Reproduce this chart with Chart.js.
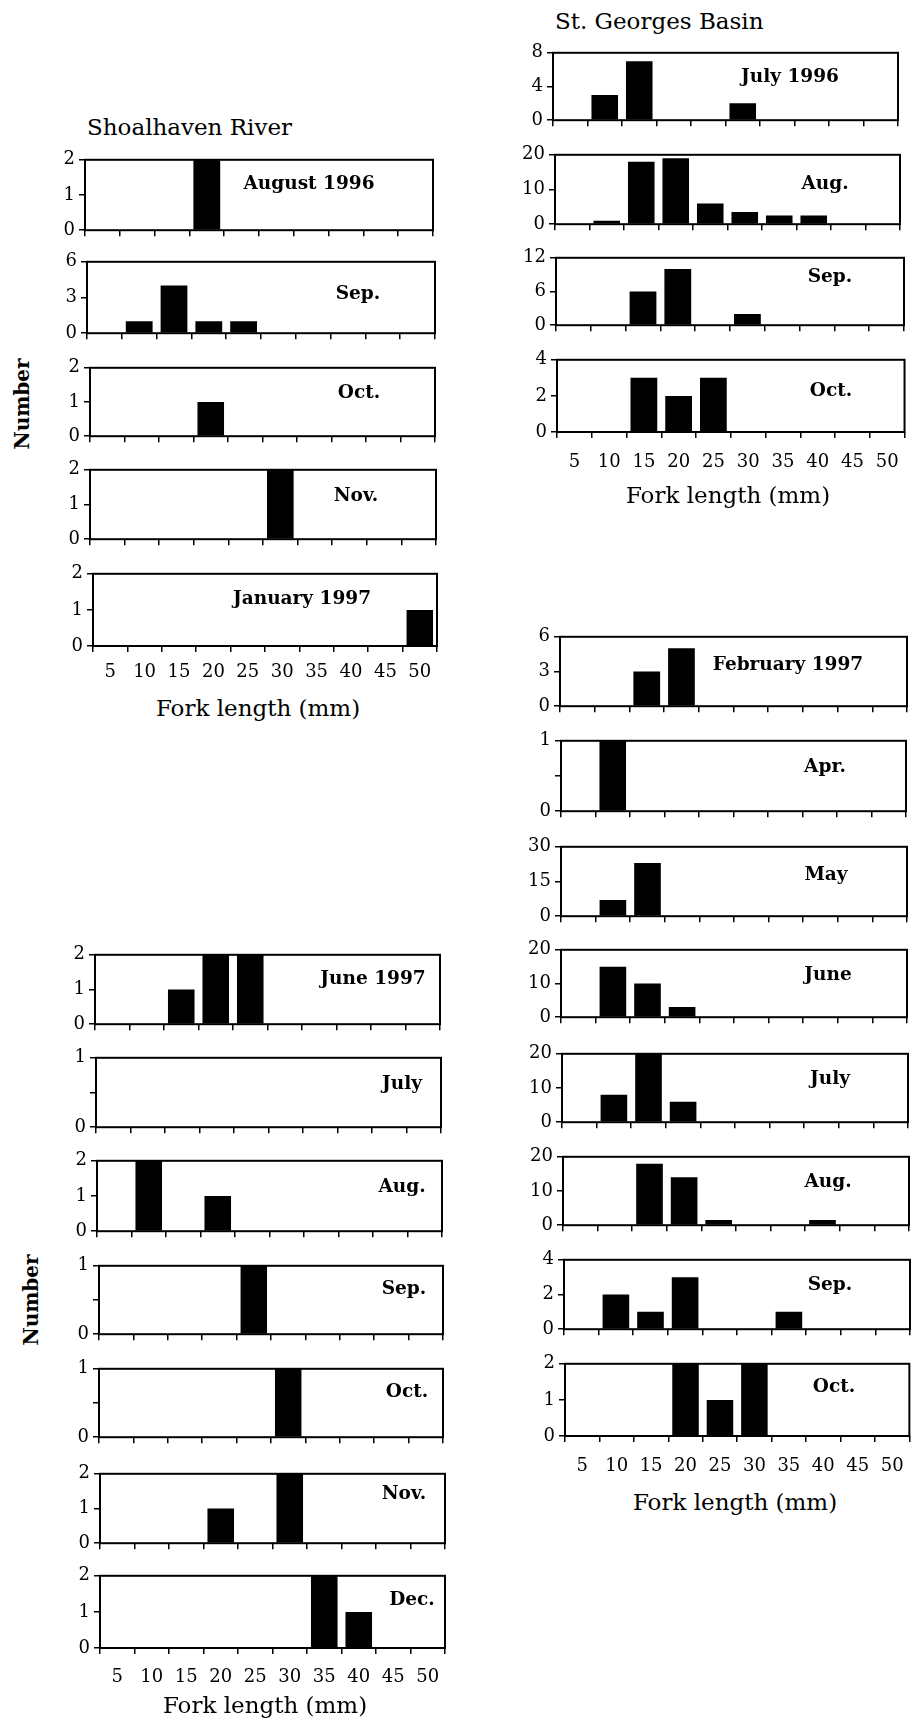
<!DOCTYPE html>
<html>
<head>
<meta charset="utf-8">
<script src="https://cdn.jsdelivr.net/npm/chart.js@4.4.1/dist/chart.umd.min.js"></script>
<style>
  body { margin: 0; background: #fff; }
  #fig { position: relative; width: 912px; height: 1726px; font-family: 'DejaVu Serif', serif; color: #000; overflow: hidden; }
  #fig canvas { position: absolute; }
  .txt { position: absolute; white-space: nowrap; transform: translate(-50%, -50%); }
  .month { font-weight: bold; font-size: 18.5px; }
  .axis-title { font-size: 23px; }
  .group-title { position: absolute; white-space: nowrap; font-size: 23px; transform: translateY(-50%); }
  .num { font-weight: bold; font-size: 20px; transform: translate(-50%, -50%) rotate(-90deg); }
</style>
</head>
<body>
<div id="fig"></div>
<script>
// fork length classes (mm)
const forkLengths = ['5', '10', '15', '20', '25', '30', '35', '40', '45', '50'];

// Shoalhaven River, Aug 1996 - Jan 1997
const shoalAug96 = [0, 0, 0, 2, 0, 0, 0, 0, 0, 0];
const shoalSep96 = [0, 1, 4, 1, 1, 0, 0, 0, 0, 0];
const shoalOct96 = [0, 0, 0, 1, 0, 0, 0, 0, 0, 0];
const shoalNov96 = [0, 0, 0, 0, 0, 2, 0, 0, 0, 0];
const shoalJan97 = [0, 0, 0, 0, 0, 0, 0, 0, 0, 1];

// St. Georges Basin, Jul - Oct 1996
const basinJul96 = [0, 3, 7, 0, 0, 2, 0, 0, 0, 0];
const basinAug96 = [0, 1, 18, 19, 6, 3.5, 2.5, 2.5, 0, 0];
const basinSep96 = [0, 0, 6, 10, 0, 2, 0, 0, 0, 0];
const basinOct96 = [0, 0, 3, 2, 3, 0, 0, 0, 0, 0];

// St. Georges Basin, Feb - Oct 1997
const basinFeb97 = [0, 0, 3, 5, 0, 0, 0, 0, 0, 0];
const basinApr97 = [0, 1, 0, 0, 0, 0, 0, 0, 0, 0];
const basinMay97 = [0, 7, 23, 0, 0, 0, 0, 0, 0, 0];
const basinJun97 = [0, 15, 10, 3, 0, 0, 0, 0, 0, 0];
const basinJul97 = [0, 8, 20, 6, 0, 0, 0, 0, 0, 0];
const basinAug97 = [0, 0, 18, 14, 1.5, 0, 0, 1.5, 0, 0];
const basinSep97 = [0, 2, 1, 3, 0, 0, 1, 0, 0, 0];
const basinOct97 = [0, 0, 0, 2, 1, 2, 0, 0, 0, 0];

// Shoalhaven River, Jun - Dec 1997
const shoalJun97 = [0, 0, 1, 2, 2, 0, 0, 0, 0, 0];
const shoalJul97 = [0, 0, 0, 0, 0, 0, 0, 0, 0, 0];
const shoalAug97 = [0, 2, 0, 1, 0, 0, 0, 0, 0, 0];
const shoalSep97 = [0, 0, 0, 0, 1, 0, 0, 0, 0, 0];
const shoalOct97 = [0, 0, 0, 0, 0, 1, 0, 0, 0, 0];
const shoalNov97 = [0, 0, 0, 1, 0, 2, 0, 0, 0, 0];
const shoalDec97 = [0, 0, 0, 0, 0, 0, 2, 1, 0, 0];

const groups = [
  {
    series: [shoalAug96, shoalSep96, shoalOct96, shoalNov96, shoalJan97],
    months: ['August 1996', 'Sep.', 'Oct.', 'Nov.', 'January 1997'],
    yMax: [2, 6, 2, 2, 2]
  },
  {
    series: [basinJul96, basinAug96, basinSep96, basinOct96],
    months: ['July 1996', 'Aug.', 'Sep.', 'Oct.'],
    yMax: [8, 20, 12, 4]
  },
  {
    series: [basinFeb97, basinApr97, basinMay97, basinJun97, basinJul97, basinAug97, basinSep97, basinOct97],
    months: ['February 1997', 'Apr.', 'May', 'June', 'July', 'Aug.', 'Sep.', 'Oct.'],
    yMax: [6, 1, 30, 20, 20, 20, 4, 2]
  },
  {
    series: [shoalJun97, shoalJul97, shoalAug97, shoalSep97, shoalOct97, shoalNov97, shoalDec97],
    months: ['June 1997', 'July', 'Aug.', 'Sep.', 'Oct.', 'Nov.', 'Dec.'],
    yMax: [2, 1, 2, 1, 1, 2, 2]
  }
];

// page layout: plot boxes [left, top, right, bottom], month label centres, titles
const layout = [
  {
    boxes: [[85, 157, 433, 233], [87, 259, 435, 336], [90, 365, 435, 439], [90, 467, 436, 542], [93, 571, 437, 646]],
    tags: [[309, 182], [358, 292], [359, 391], [356, 494], [302, 597]],
    labelPad: 10, xTitle: [258, 708], title: ['Shoalhaven River', 87, 127], number: [22, 404]
  },
  {
    boxes: [[553, 50, 898, 123], [555, 152, 900, 227], [556, 255, 904, 328], [557, 357, 905, 432]],
    tags: [[790, 75], [825, 182], [830, 275], [831, 389]],
    labelPad: 14, xTitle: [728, 495], title: ['St. Georges Basin', 555, 21]
  },
  {
    boxes: [[560, 634, 907, 709], [561, 738, 906, 814], [561, 844, 907, 919], [561, 947, 907, 1020],
            [562, 1051, 908, 1125], [563, 1154, 909, 1228], [564, 1257, 910, 1332], [565, 1361, 910, 1436]],
    tags: [[788, 663], [825, 765], [826, 873], [828, 973], [830, 1077], [828, 1180], [830, 1283], [834, 1385]],
    labelPad: 14, xTitle: [735, 1502]
  },
  {
    boxes: [[95, 952, 440, 1027], [96, 1055, 441, 1130], [97, 1158, 442, 1234], [99, 1263, 443, 1337],
            [99, 1366, 443, 1440], [100, 1471, 445, 1546], [100, 1573, 445, 1648]],
    tags: [[373, 977], [402, 1082], [402, 1185], [404, 1287], [407, 1390], [404, 1492], [412, 1598]],
    labelPad: 13, xTitle: [265, 1705], number: [31, 1300]
  }
];

const FONT = "'DejaVu Serif', serif";
const YW = 44, PAD_T = 12, PAD_R = 8, PAD_B = 4;
const fig = document.getElementById('fig');

// closed frame round the plot area
const framePlugin = {
  id: 'frame',
  afterDatasetsDraw(chart) {
    const { ctx, chartArea: a } = chart;
    ctx.save();
    ctx.strokeStyle = '#000';
    ctx.lineWidth = 2;
    ctx.strokeRect(a.left, a.top, a.right - a.left, a.bottom - a.top);
    ctx.restore();
  }
};

function addText(cls, text, x, y) {
  const d = document.createElement('div');
  d.className = cls;
  d.textContent = text;
  d.style.left = x + 'px';
  d.style.top = y + 'px';
  fig.appendChild(d);
  return d;
}

function makePanel(values, yMax, box, showX, labelPad) {
  const [l, t, r, b] = box;
  const xh = showX ? 44 : 8;
  const c = document.createElement('canvas');
  c.width = YW + (r - l) + PAD_R;
  c.height = PAD_T + (b - t) + xh + PAD_B;
  c.style.left = (l - YW) + 'px';
  c.style.top = (t - PAD_T) + 'px';
  fig.appendChild(c);

  const labelStep = yMax === 1 ? 1 : yMax / 2;

  new Chart(c, {
    type: 'bar',
    data: {
      labels: forkLengths,
      datasets: [{
        data: values,
        backgroundColor: '#000',
        borderWidth: 0,
        barPercentage: 0.77,
        categoryPercentage: 1
      }]
    },
    options: {
      responsive: false,
      animation: false,
      layout: { padding: { top: PAD_T, right: PAD_R, bottom: PAD_B, left: 0 } },
      plugins: { legend: { display: false }, tooltip: { enabled: false } },
      scales: {
        x: {
          grid: { drawOnChartArea: false, tickLength: 6, color: '#000', lineWidth: 1.5 },
          border: { display: false },
          ticks: {
            display: showX, color: '#000', padding: labelPad,
            font: { family: FONT, size: 18 }, maxRotation: 0, autoSkip: false
          },
          afterFit(scale) { scale.height = xh; }
        },
        y: {
          min: 0,
          max: yMax,
          grid: { drawOnChartArea: false, tickLength: 6, color: '#000', lineWidth: 1.5 },
          border: { display: false },
          ticks: {
            stepSize: yMax === 1 ? 0.5 : yMax / 4,
            color: '#000', padding: 4,
            font: { family: FONT, size: 18 },
            callback(v) {
              const k = v / labelStep;
              return Math.abs(k - Math.round(k)) < 1e-6 ? v : '';
            }
          },
          afterFit(scale) { scale.width = YW; }
        }
      }
    },
    plugins: [framePlugin]
  });
}

groups.forEach((g, gi) => {
  const lay = layout[gi];
  g.series.forEach((values, i) => {
    const last = i === g.series.length - 1;
    makePanel(values, g.yMax[i], lay.boxes[i], last, lay.labelPad);
    addText('txt month', g.months[i], lay.tags[i][0], lay.tags[i][1]);
  });
  addText('txt axis-title', 'Fork length (mm)', lay.xTitle[0], lay.xTitle[1]);
  if (lay.title) addText('group-title', lay.title[0], lay.title[1], lay.title[2]);
  if (lay.number) addText('txt num', 'Number', lay.number[0], lay.number[1]);
});
</script>
</body>
</html>
